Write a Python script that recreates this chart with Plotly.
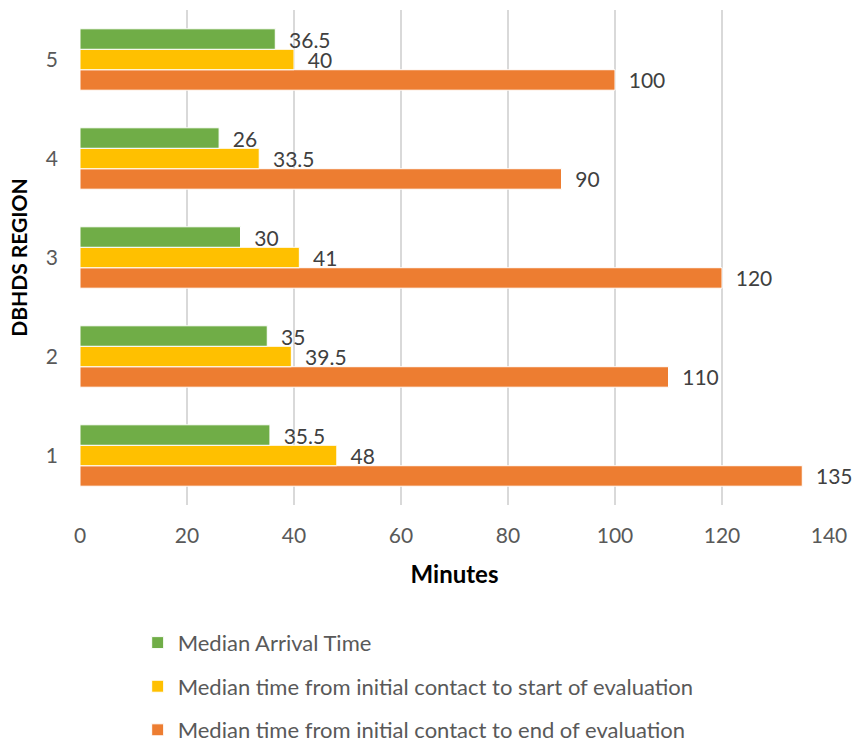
import plotly.graph_objects as go

# DBHDS regions (y categories)
regions = ["1", "2", "3", "4", "5"]

# Median times in minutes per region
arrival = [35.5, 35, 30, 26, 36.5]
to_start_eval = [48, 39.5, 41, 33.5, 40]
to_end_eval = [135, 110, 120, 90, 100]

series_names = [
    "Median Arrival Time",
    "Median time from initial contact to start of evaluation",
    "Median time from initial contact to end of evaluation",
]
series_colors = ["#70AD47", "#FFC000", "#ED7D31"]

x_ticks = [0, 20, 40, 60, 80, 100, 120, 140]

FONT = "Lato, 'Open Sans', sans-serif"
pad = "\u00a0\u00a0"

fig = go.Figure()
# Horizontal groups stack upward by trace index, so add the bottom bar first
series = [arrival, to_start_eval, to_end_eval]
for rank, vals, name, color in reversed(
    list(zip([1, 2, 3], series, series_names, series_colors))
):
    fig.add_trace(
        go.Bar(
            y=regions,
            x=vals,
            orientation="h",
            name=name,
            legendgroup=name,
            legendrank=rank,
            marker=dict(color=color, line=dict(color="white", width=1)),
            text=[f"{v:g}" for v in vals],
            texttemplate=pad + "%{text}",
            textposition="outside",
            constraintext="none",
            textfont=dict(family=FONT, size=21, color="#404040"),
            cliponaxis=False,
            hoverinfo="x+name",
        )
    )

fig.update_layout(
    width=855,
    height=744,
    margin=dict(l=80, r=26, t=10, b=239, autoexpand=False),
    paper_bgcolor="white",
    plot_bgcolor="white",
    barmode="group",
    bargap=0.38,
    bargroupgap=0,
    font=dict(family=FONT, color="#595959"),
    xaxis=dict(
        range=[0, 140],
        tickvals=x_ticks,
        showgrid=True,
        gridcolor="#D9D9D9",
        gridwidth=2,
        zeroline=False,
        showline=False,
        tickfont=dict(size=21, color="#595959"),
        ticks="",
        ticklabelstandoff=16,
        title=dict(
            text="<b>Minutes</b>",
            font=dict(size=24, color="black", family=FONT),
            standoff=20,
        ),
    ),
    yaxis=dict(
        categoryorder="array",
        categoryarray=regions,
        showgrid=False,
        zeroline=False,
        showline=False,
        ticks="",
        ticklabelstandoff=21,
        tickfont=dict(size=21, color="#595959"),
        title=dict(
            text="<b>DBHDS REGION</b>",
            font=dict(size=21, color="black", family=FONT),
            standoff=12,
        ),
    ),
    showlegend=True,
    legend=dict(
        x=0.077,
        y=-0.236,
        xanchor="left",
        yanchor="top",
        traceorder="grouped",
        tracegroupgap=12,
        font=dict(size=22, color="#595959", family=FONT),
        itemwidth=30,
        bgcolor="rgba(0,0,0,0)",
    ),
)

fig.write_html("out.html")
